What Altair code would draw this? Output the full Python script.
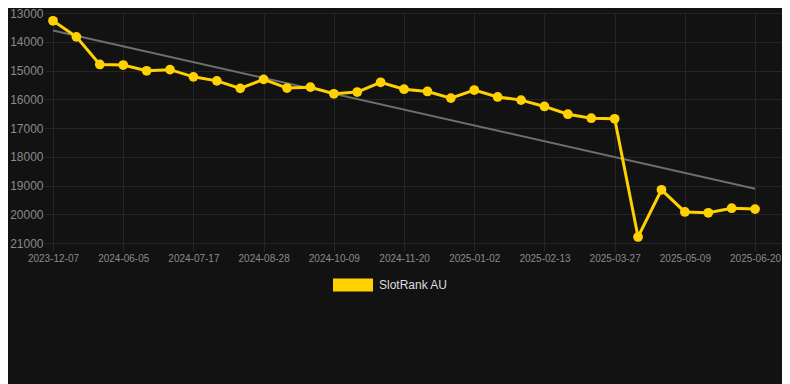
import altair as alt
import pandas as pd

dates = [
    "2023-12-07", "2024-05-08", "2024-05-22", "2024-06-05", "2024-06-19",
    "2024-07-03", "2024-07-17", "2024-07-31", "2024-08-14", "2024-08-28",
    "2024-09-11", "2024-09-25", "2024-10-09", "2024-10-23", "2024-11-06",
    "2024-11-20", "2024-12-04", "2024-12-18", "2025-01-02", "2025-01-16",
    "2025-01-30", "2025-02-13", "2025-02-27", "2025-03-13", "2025-03-27",
    "2025-04-10", "2025-04-24", "2025-05-09", "2025-05-23", "2025-06-06",
    "2025-06-20",
]
rank = [
    13270, 13830, 14790, 14810, 15010, 14970, 15220, 15360, 15620, 15310,
    15610, 15580, 15810, 15750, 15410, 15650, 15730, 15960, 15680, 15920,
    16030, 16250, 16520, 16660, 16680, 20790, 19150, 19920, 19950, 19790,
    19820,
]
trend_idx = [0, 30]
trend_vals = [13610, 19110]
series_name = "SlotRank AU"
y_ticks = [13000, 14000, 15000, 16000, 17000, 18000, 19000, 20000, 21000]
x_tick_idx = list(range(0, 31, 3))

GOLD = "#ffd100"
BG = "#121212"
GRID = "#252525"

df = pd.DataFrame({"idx": list(range(len(dates))), "date": dates,
                   "rank": rank, "series": series_name})
tdf = pd.DataFrame({"idx": trend_idx, "rank": trend_vals})

label_expr = "[" + ",".join(f"'{d}'" for d in dates) + "][datum.value]"

x = alt.X("idx:Q",
          scale=alt.Scale(domain=[0, 31.15], nice=False, zero=False),
          axis=alt.Axis(values=x_tick_idx, labelExpr=label_expr, title=None,
                        grid=True, gridColor=GRID, tickColor=GRID, tickSize=8,
                        labelPadding=2, labelColor="#8a8a8a", labelFontSize=10,
                        labelFont="Arial", domain=False, labelAngle=0,
                        labelOverlap=False, labelBound=False, labelFlush=False))
y = alt.Y("rank:Q",
          scale=alt.Scale(domain=[13000, 21000], reverse=True, nice=False, zero=False),
          axis=alt.Axis(values=y_ticks, format="d", title=None, grid=True,
                        gridColor=GRID, tickColor=GRID, tickSize=8, labelPadding=2,
                        labelColor="#8a8a8a", labelFontSize=12, labelFont="Arial",
                        domain=False, labelOverlap=False, labelFlush=False))

trend = alt.Chart(tdf).mark_line(color="#6e6e6e", strokeWidth=2).encode(x=x, y=y)
line = alt.Chart(df).mark_line(color=GOLD, strokeWidth=3).encode(x=x, y=y)
points = alt.Chart(df).mark_circle(size=95, opacity=1).encode(
    x=x, y=y,
    color=alt.Color("series:N", scale=alt.Scale(range=[GOLD]),
                    legend=alt.Legend(orient="none", legendX=280, legendY=252,
                                      title=None, padding=0,
                                      symbolType="M-1,-0.325L1,-0.325L1,0.325L-1,0.325Z",
                                      symbolSize=1600, symbolFillColor=GOLD,
                                      symbolStrokeWidth=0, symbolOpacity=1,
                                      labelColor="#dddddd", labelFontSize=12,
                                      labelFont="Arial", labelOffset=6)),
)

chart = (trend + line + points).properties(
    width=729, height=230,
    autosize=alt.AutoSizeParams(type="none"),
    padding={"left": 45, "top": 5, "right": 0, "bottom": 141},
    background=BG,
).configure_view(stroke=None)

chart.save("out.html", embed_options={"renderer": "svg", "actions": False})
